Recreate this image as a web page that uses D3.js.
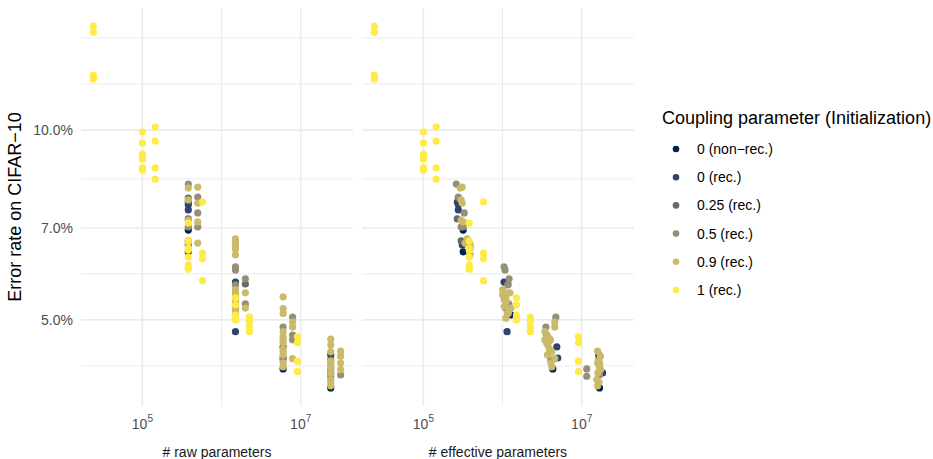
<!DOCTYPE html>
<html><head><meta charset="utf-8">
<script src="https://cdn.jsdelivr.net/npm/d3@7"></script>
<style>
body{margin:0;background:#fff}
svg{display:block}
text{font-family:"Liberation Sans",Arial,Helvetica,sans-serif}
</style>
</head><body>
<svg id="chart" width="933" height="459"></svg>
<script>
// ---------------- data ----------------
const couplingLabels = ["0 (non\u2212rec.)", "0 (rec.)", "0.25 (rec.)", "0.5 (rec.)", "0.9 (rec.)", "1 (rec.)"];
const facetLabels = ["# raw parameters", "# effective parameters"];
const yTickValues = [5, 7, 10];          // error rate, %
const xTickExponents = [5, 7];           // 10^5, 10^7

// one entry per model run (parallel arrays)
const coupling = [
  5,5,5,5,5,
  5,5,5,5,5,5,5,
  5,5,5,5,
  3,4,2,4,1,1,1,4,2,3,0,2,1,0,4,
  5,5,5,5,5,5,5,5,
  4,3,4,3,4,3,4,
  5,5,5,5,
  4,4,4,4,4,4,3,3,1,3,4,4,4,1,2,4,1,0,
  4,4,4,4,4,
  5,5,5,5,5,
  3,2,4,3,4,
  5,5,5,5,
  4,4,4,3,4,4,4,1,4,1,3,4,0,
  4,4,4,4,
  3,4,4,3,3,4,
  5,5,5,5,
  4,4,4,1,2,4,4,3,3,4,4,0,1,
  4,4,4,4,
  4,4,4,4,3
];
const rawParams = [
  2.4e4,2.4e4,2.4e4,2.4e4,2.4e4,
  1e5,1e5,1e5,1e5,1e5,1e5,1e5,
  1.45e5,1.45e5,1.45e5,1.45e5,
  3.8e5,3.8e5,3.8e5,3.8e5,3.8e5,3.8e5,3.8e5,3.8e5,3.8e5,3.8e5,3.8e5,3.8e5,3.8e5,3.8e5,3.8e5,
  3.8e5,3.8e5,3.8e5,3.8e5,3.8e5,3.8e5,3.8e5,3.8e5,
  5e5,5e5,5e5,5e5,5e5,5e5,5e5,
  5.75e5,5.75e5,5.75e5,5.75e5,
  1.5e6,1.5e6,1.5e6,1.5e6,1.5e6,1.5e6,1.5e6,1.5e6,1.5e6,1.5e6,1.5e6,1.5e6,1.5e6,1.5e6,1.5e6,1.5e6,1.5e6,1.5e6,
  1.5e6,1.5e6,1.5e6,1.5e6,1.5e6,
  1.5e6,1.5e6,1.5e6,1.5e6,1.5e6,
  2e6,2e6,2e6,2e6,2e6,
  2.25e6,2.25e6,2.25e6,2.25e6,
  6e6,6e6,6e6,6e6,6e6,6e6,6e6,6e6,6e6,6e6,6e6,6e6,6e6,
  6e6,6e6,6e6,6e6,
  7.9e6,7.9e6,7.9e6,7.9e6,7.9e6,7.9e6,
  9.1e6,9.1e6,9.1e6,9.1e6,
  2.4e7,2.4e7,2.4e7,2.4e7,2.4e7,2.4e7,2.4e7,2.4e7,2.4e7,2.4e7,2.4e7,2.4e7,2.4e7,
  2.4e7,2.4e7,2.4e7,2.4e7,
  3.2e7,3.2e7,3.2e7,3.2e7,3.2e7
];
const effParams = [
  2.4e4,2.4e4,2.4e4,2.4e4,2.4e4,
  1e5,1e5,1e5,1e5,1e5,1e5,1e5,
  1.45e5,1.45e5,1.45e5,1.45e5,
  2.6e5,2.92e5,2.76e5,3.0e5,2.68e5,2.76e5,2.76e5,3.0e5,2.68e5,3.0e5,3.18e5,3.0e5,3.1e5,3.18e5,3.37e5,
  3.8e5,3.8e5,3.8e5,3.8e5,3.8e5,3.8e5,3.8e5,3.8e5,
  3.09e5,2.76e5,3.09e5,3.28e5,3.18e5,3.18e5,3.45e5,
  5.75e5,5.75e5,5.75e5,5.75e5,
  3.57e5,3.75e5,3.9e5,3.9e5,3.9e5,3.9e5,1.045e6,1.075e6,1.045e6,1.17e6,1.0e6,1.1e6,1.05e6,1.14e6,1.1e6,1.2e6,1.14e6,1.28e6,
  1.0e6,1.12e6,1.05e6,1.18e6,1.1e6,
  1.5e6,1.5e6,1.5e6,1.5e6,1.5e6,
  1.21e6,1.17e6,1.24e6,1.2e6,1.28e6,
  2.25e6,2.25e6,2.25e6,2.25e6,
  1.1e6,1.2e6,1.15e6,3.53e6,3.43e6,3.74e6,3.43e6,4.85e6,4.2e6,4.99e6,4.07e6,4.2e6,4.32e6,
  3.6e6,3.9e6,3.7e6,4.1e6,
  4.71e6,4.57e6,4.57e6,3.6e6,4.0e6,4.57e6,
  9.1e6,9.1e6,9.1e6,9.1e6,
  3.96e6,3.74e6,4.07e6,1.64e7,1.64e7,1.59e7,1.68e7,1.16e7,1.16e7,1.55e7,1.59e7,1.68e7,1.84e7,
  1.62e7,1.7e7,1.6e7,1.66e7,
  1.59e7,1.73e7,1.68e7,1.73e7,1.68e7
];
const errorRate = [
  14.62,14.30,12.22,12.12,12.05,
  9.93,9.54,9.16,9.06,8.99,8.71,8.64,
  10.11,9.61,8.71,8.36,
  8.21,8.09,7.80,7.75,7.69,7.61,7.47,7.20,7.23,7.02,6.94,6.67,6.57,6.41,6.62,
  7.12,6.67,6.50,6.45,6.29,6.11,6.04,6.02,
  8.12,7.83,7.66,7.39,7.15,7.02,6.62,
  7.69,6.38,6.25,5.77,
  6.72,6.64,6.58,6.52,6.48,6.34,6.07,6.00,5.74,5.68,5.58,5.52,5.38,5.28,5.22,5.17,4.79,5.09,
  5.48,5.35,5.25,5.12,5.03,
  5.42,5.28,5.09,5.05,5.00,
  5.81,5.70,5.52,5.30,5.22,
  5.05,4.96,4.87,4.79,
  5.44,5.21,5.12,4.87,4.79,4.70,4.65,4.53,4.45,4.35,4.32,4.21,4.18,
  4.60,4.50,4.40,4.27,
  5.05,4.96,4.87,4.73,4.65,4.34,
  4.70,4.60,4.30,4.14,
  4.66,4.56,4.45,4.40,4.32,4.27,4.20,4.18,4.07,4.02,3.93,3.90,4.12,
  4.30,4.24,4.12,3.98,
  4.46,4.38,4.27,4.17,4.09
];

// ---------------- layout ----------------
const svg = d3.select("#chart");
const panelTop = 8, panelBottom = 406;
const panels = [{x0: 81, x1: 353}, {x0: 362, x1: 634}];
const color = d3.scaleOrdinal().domain(d3.range(couplingLabels.length))
  .range(["#00204D", "#31446B", "#666970", "#958F78", "#CBBA69", "#FFEA46"]);

function expandLog(vals) {
  const l = d3.extent(vals, v => Math.log10(v));
  const p = (l[1] - l[0]) * 0.05;
  return [Math.pow(10, l[0] - p), Math.pow(10, l[1] + p)];
}
const xDomain = expandLog(rawParams.concat(effParams));
const yDomain = expandLog(errorRate);
const y = d3.scaleLog().domain(yDomain).range([panelBottom, panelTop]);

function minorBreaks(major, dom) {
  const b = major.map(Math.log10);
  const bd = b[1] - b[0];
  const lo = Math.log10(dom[0]), hi = Math.log10(dom[1]);
  if (lo < b[0]) b.unshift(b[0] - bd);
  if (hi > b[b.length - 1]) b.push(b[b.length - 1] + bd);
  const out = [];
  for (let i = 0; i < b.length - 1; i++) out.push(b[i], (b[i] + b[i + 1]) / 2);
  out.push(b[b.length - 1]);
  return out.filter(v => v >= lo && v <= hi && !major.some(m => Math.abs(Math.log10(m) - v) < 1e-9))
            .map(v => Math.pow(10, v));
}
const xTicks = xTickExponents.map(e => Math.pow(10, e));
const yMinor = minorBreaks(yTickValues, yDomain);
const xMinor = minorBreaks(xTicks, xDomain);

const pts = d3.range(errorRate.length).map(i => ({c: coupling[i], raw: rawParams[i], eff: effParams[i], err: errorRate[i]}))
  .sort((a, b) => a.c - b.c);

panels.forEach((p, pi) => {
  const x = d3.scaleLog().domain(xDomain).range([p.x0, p.x1]);
  const g = svg.append("g");
  // minor grid
  g.selectAll(".hm").data(yMinor).join("line")
    .attr("x1", p.x0).attr("x2", p.x1).attr("y1", d => y(d)).attr("y2", d => y(d))
    .attr("stroke", "#EBEBEB").attr("stroke-width", 1.0);
  g.selectAll(".vm").data(xMinor).join("line")
    .attr("y1", panelTop).attr("y2", panelBottom).attr("x1", d => x(d)).attr("x2", d => x(d))
    .attr("stroke", "#EBEBEB").attr("stroke-width", 1.0);
  // major grid
  g.selectAll(".hM").data(yTickValues).join("line")
    .attr("x1", p.x0).attr("x2", p.x1).attr("y1", d => y(d)).attr("y2", d => y(d))
    .attr("stroke", "#EBEBEB").attr("stroke-width", 1.6);
  g.selectAll(".vM").data(xTicks).join("line")
    .attr("y1", panelTop).attr("y2", panelBottom).attr("x1", d => x(d)).attr("x2", d => x(d))
    .attr("stroke", "#EBEBEB").attr("stroke-width", 1.6);

  // points
  g.selectAll("circle").data(pts).join("circle")
    .attr("cx", d => x(pi === 0 ? d.raw : d.eff))
    .attr("cy", d => y(d.err))
    .attr("r", 3.6)
    .attr("fill", d => color(d.c));

  // x tick labels 10^k
  xTickExponents.forEach(e => {
    const t = g.append("text").attr("x", x(Math.pow(10, e))).attr("y", 429)
      .attr("text-anchor", "middle").attr("fill", "#4D4D4D").attr("font-size", 14);
    t.append("tspan").text("10");
    t.append("tspan").attr("dy", -7).attr("font-size", 10).text(e);
  });

  // facet strip label at bottom
  g.append("text").attr("x", (p.x0 + p.x1) / 2).attr("y", 457)
    .attr("text-anchor", "middle").attr("fill", "#1A1A1A").attr("font-size", 14)
    .text(facetLabels[pi]);
});

// y tick labels
svg.selectAll(".ytl").data(yTickValues).join("text")
  .attr("x", 73).attr("y", d => y(d)).attr("dy", "0.35em")
  .attr("text-anchor", "end").attr("fill", "#4D4D4D").attr("font-size", 14)
  .text(d => d3.format(".1f")(d) + "%");

// y title
svg.append("text").attr("transform", `translate(21,${(panelTop + panelBottom) / 2}) rotate(-90)`)
  .attr("text-anchor", "middle").attr("fill", "#000").attr("font-size", 18)
  .text("Error rate on CIFAR\u221210");

// legend
const lg = svg.append("g");
lg.append("text").attr("x", 662).attr("y", 124).attr("font-size", 18).attr("fill", "#000")
  .text("Coupling parameter (Initialization)");
couplingLabels.forEach((lab, i) => {
  const cy = 149 + i * 28.2;
  lg.append("circle").attr("cx", 676).attr("cy", cy).attr("r", 3.3).attr("fill", color(i));
  lg.append("text").attr("x", 697).attr("y", cy).attr("dy", "0.35em")
    .attr("font-size", 14).attr("fill", "#000").text(lab);
});
</script>
</body></html>
